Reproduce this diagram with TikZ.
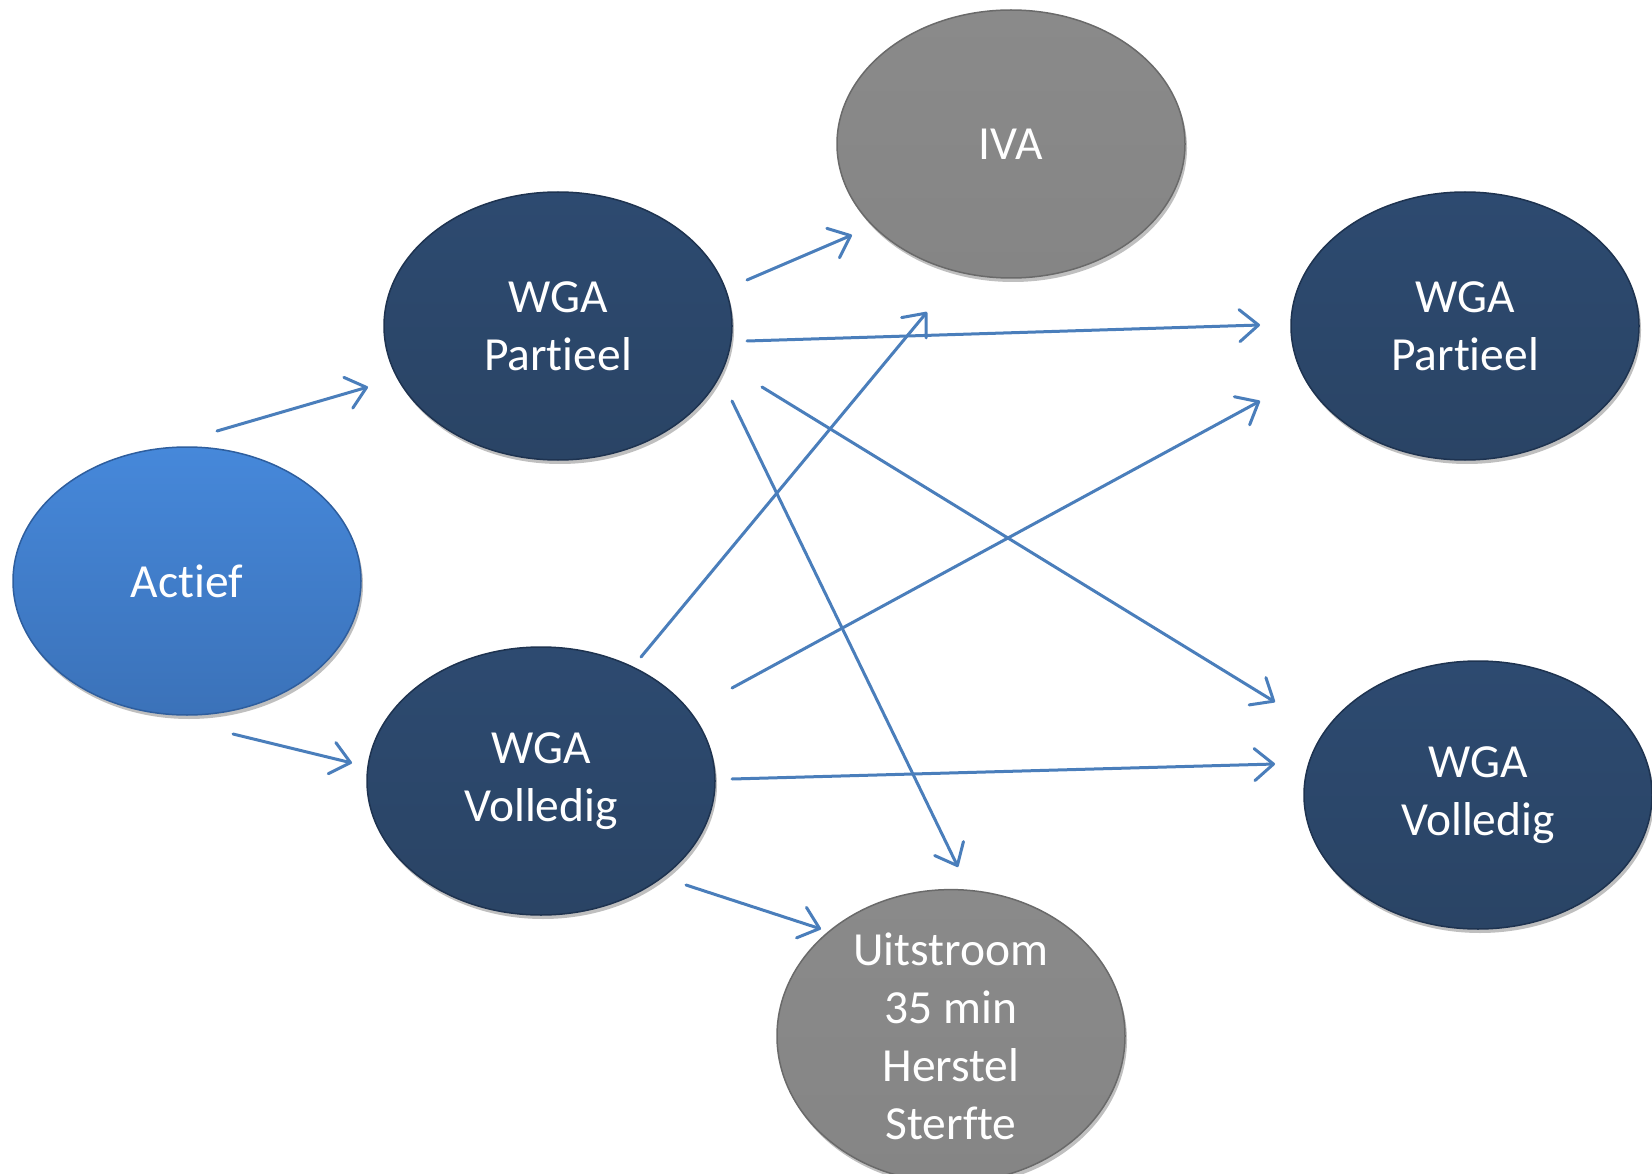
\documentclass[tikz,border=0pt]{standalone}
\usepackage{fontspec}
\setmainfont{Carlito}[Ligatures={NoCommon,NoRequired,NoContextual}]
\usetikzlibrary{shapes.geometric,shadows,arrows.meta}
\definecolor{navyT}{HTML}{2D4A70}
\definecolor{navyB}{HTML}{2A4465}
\definecolor{navyE}{HTML}{1E3350}
\definecolor{blueT}{HTML}{4688DA}
\definecolor{blueB}{HTML}{3B72B9}
\definecolor{blueE}{HTML}{2E5E9E}
\definecolor{grayT}{HTML}{8A8A8A}
\definecolor{grayB}{HTML}{858585}
\definecolor{grayE}{HTML}{6A6A6A}
\definecolor{arrowc}{HTML}{4A7EBB}
\tikzset{
  ell/.style={ellipse, minimum width=348pt, minimum height=268pt, inner sep=0pt,
    text=white, align=center, font=\fontsize{47.5}{58}\selectfont, line width=1.5pt,
    drop shadow={shadow xshift=2pt, shadow yshift=-4pt, opacity=0.25, fill=black}},
  navyell/.style={ell, draw=navyE, top color=navyT, bottom color=navyB},
  blueell/.style={ell, draw=blueE, top color=blueT, bottom color=blueB},
  grayell/.style={ell, draw=grayE, top color=grayT, bottom color=grayB},
  arr/.style={draw=arrowc, line width=3pt, line cap=round,
    -{Straight Barb[length=19pt,width=32pt,line width=3pt,round]}},
}
\begin{document}
\begin{tikzpicture}[x=1pt,y=-1pt]
\useasboundingbox (0,0) rectangle (1652,1174);
\fill[white] (0,0) rectangle (1652,1174);
\node[blueell] (act) at (187,581) {Actief};
\node[navyell] (wpl) at (558,326) {WGA\\Partieel};
\node[navyell] (wvl) at (541,781) {WGA\\Volledig};
\node[grayell] (iva) at (1011,144) {IVA};
\node[navyell] (wpr) at (1465,326) {WGA\\Partieel};
\node[navyell] (wvr) at (1478,795) {WGA\\Volledig};
\node[grayell] (uit) at (951,1036) {Uitstroom\\35 min\\Herstel\\Sterfte};
\draw[arr] ([shift={(30,-150)}]act.center) -- ([shift={(-190,61)}]wpl.center);
\draw[arr] ([shift={(46,153)}]act.center) -- ([shift={(-189,-18)}]wvl.center);
\draw[arr] ([shift={(189,-46)}]wpl.center) -- ([shift={(-159,91)}]iva.center);
\draw[arr] ([shift={(189,15)}]wpl.center) -- ([shift={(-205,-1)}]wpr.center);
\draw[arr] ([shift={(204,61)}]wpl.center) -- ([shift={(-203,-93)}]wvr.center);
\draw[arr] ([shift={(174,75)}]wpl.center) -- ([shift={(7,-169)}]uit.center);
\draw[arr] ([shift={(100,-124)}]wvl.center) -- ([shift={(-84,168)}]iva.center);
\draw[arr] ([shift={(191,-93)}]wvl.center) -- ([shift={(-205,75)}]wpr.center);
\draw[arr] ([shift={(191,-2)}]wvl.center) -- ([shift={(-203,-31)}]wvr.center);
\draw[arr] ([shift={(145,104)}]wvl.center) -- ([shift={(-130,-107)}]uit.center);
\end{tikzpicture}
\end{document}
